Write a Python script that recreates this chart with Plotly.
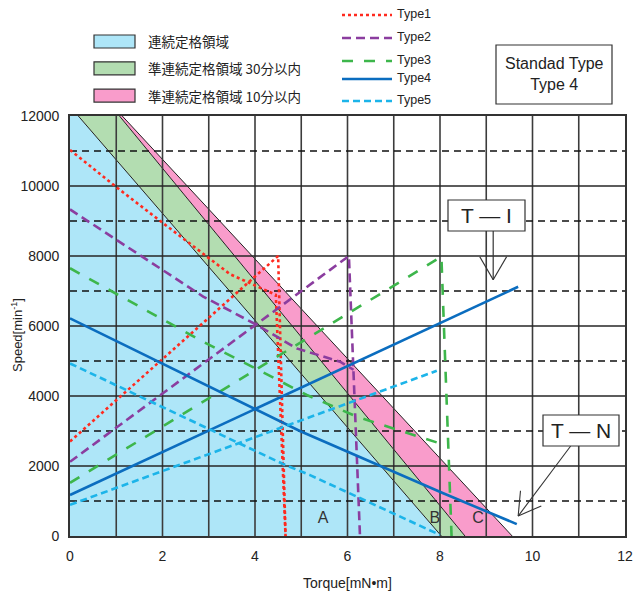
import plotly.graph_objects as go

# ---- operating regions (boundary lines run from the 12000 min^-1 edge down to 0) ----
region_speed = [12000, 0]
bound_A_torque = [0.18, 8.03]   # continuous rating limit
bound_B_torque = [1.07, 8.54]   # semi-continuous, 30 min
bound_C_torque = [1.13, 9.56]   # semi-continuous, 10 min

region_names = ["連続定格領域", "準連続定格領域 30分以内", "準連続定格領域 10分以内"]
region_colors = ["#aee6f8", "#b3ddb1", "#f99ccb"]
region_labels = ["A", "B", "C"]
region_label_torque = [5.47, 7.89, 8.82]
region_label_speed = [480, 480, 480]

# ---- motor characteristics: T-N (speed) and T-I (current) curves ----
type_names = ["Type1", "Type2", "Type3", "Type4", "Type5"]

type1_tn_t = [0, 1.04, 2.02, 2.88, 3.46, 4.45, 4.66]
type1_tn_n = [11030, 9930, 8930, 8080, 7480, 6890, 0]
type1_ti_t = [0, 4.50, 4.66]
type1_ti_n = [2700, 8000, 0]

type2_tn_t = [0, 2.88, 4.04, 4.90, 5.84, 6.13]
type2_tn_n = [9330, 6840, 6030, 5360, 4980, 4750]
type2_ti_t = [0, 6.03, 6.27]
type2_ti_n = [2120, 8000, 0]

type3_tn_t = [0, 1.62, 2.88, 3.86, 5.12, 6.20, 7.21, 8.15]
type3_tn_n = [7650, 6460, 5550, 4890, 4030, 3410, 2980, 2580]
type3_ti_t = [0, 8.03, 8.25]
type3_ti_n = [1520, 7980, 0]

type4_tn_t = [0, 3.93, 4.97, 8.07, 9.66]
type4_tn_n = [6220, 3680, 3000, 1220, 340]
type4_ti_t = [0, 9.69]
type4_ti_n = [1170, 7120]

type5_tn_t = [0, 4.65, 5.19, 8.0]
type5_tn_n = [4930, 2030, 1740, 30]
type5_ti_t = [0, 7.93]
type5_ti_n = [890, 4720]

type_colors = ["#ff2a1f", "#8b3d9f", "#3db64b", "#0b6dbf", "#1cb4e9"]
type_dashes = ["3px,3px", "9px,5px", "11px,11px", "solid", "7px,4px"]

# ---- axes ----
torque_ticks = [0, 2, 4, 6, 8, 10, 12]
speed_ticks = [0, 2000, 4000, 6000, 8000, 10000, 12000]
speed_tick_text = ["0", "2000", "4000", "6000", "8000", "10000", "12000"]
torque_grid = list(range(1, 12))
speed_grid_solid = [2000, 4000, 6000, 8000, 10000]
speed_grid_dashed = [1000, 3000, 5000, 7000, 9000, 11000]

# annotation callouts (tips sit on the ends of the Type4 curves)
ti_tip = (9.15, 7320)
tn_tip = (9.69, 570)

W, H = 633, 594
L, R, T, B = 70, 8, 116, 58
PW, PH = W - L - R, H - T - B


def px(x):
    return (x - L) / PW


def py(y):
    return (H - B - y) / PH


fig = go.Figure()

# filled regions
poly_x = [
    [0, 0] + bound_A_torque,
    bound_A_torque + bound_B_torque[::-1],
    bound_B_torque + bound_C_torque[::-1],
]
poly_y = [
    [0, 12000] + region_speed,
    region_speed + region_speed[::-1],
    region_speed + region_speed[::-1],
]
for xs, ys, c in zip(poly_x, poly_y, region_colors):
    fig.add_trace(go.Scatter(x=xs, y=ys, fill="toself", fillcolor=c, mode="none",
                             hoverinfo="skip", showlegend=False))

# boundary lines
for bt in (bound_A_torque, bound_B_torque, bound_C_torque):
    fig.add_trace(go.Scatter(x=bt, y=region_speed, mode="lines",
                             line=dict(color="#222222", width=1), showlegend=False, hoverinfo="skip"))

# grid drawn over the fills
for t in torque_grid:
    fig.add_trace(go.Scatter(x=[t, t], y=[0, 12000], mode="lines",
                             line=dict(color="#3c3c3c", width=1.6), showlegend=False, hoverinfo="skip"))
for s in speed_grid_solid:
    fig.add_trace(go.Scatter(x=[0, 12], y=[s, s], mode="lines",
                             line=dict(color="#262626", width=1.4), showlegend=False, hoverinfo="skip"))
for s in speed_grid_dashed:
    fig.add_trace(go.Scatter(x=[0, 12], y=[s, s], mode="lines",
                             line=dict(color="#111111", width=1.3, dash="7px,5px"),
                             showlegend=False, hoverinfo="skip"))

# region letters
fig.add_trace(go.Scatter(x=region_label_torque, y=region_label_speed, mode="text", text=region_labels,
                         textfont=dict(family="Liberation Sans Narrow, Liberation Sans, Arial", size=16,
                                       color="#333333"),
                         showlegend=False, hoverinfo="skip"))

# characteristic curves
curves = [
    (type1_tn_t, type1_tn_n, type1_ti_t, type1_ti_n),
    (type2_tn_t, type2_tn_n, type2_ti_t, type2_ti_n),
    (type3_tn_t, type3_tn_n, type3_ti_t, type3_ti_n),
    (type4_tn_t, type4_tn_n, type4_ti_t, type4_ti_n),
    (type5_tn_t, type5_tn_n, type5_ti_t, type5_ti_n),
]
for name, (tn_t, tn_n, ti_t, ti_n), c, d in zip(type_names, curves, type_colors, type_dashes):
    ln = dict(color=c, width=2.6, dash=d)
    fig.add_trace(go.Scatter(x=tn_t, y=tn_n, mode="lines", line=ln, name=name, showlegend=False))
    fig.add_trace(go.Scatter(x=ti_t, y=ti_n, mode="lines", line=ln, name=name, showlegend=False))

shapes = []
annotations = []

# region legend (top left)
reg_rows = [41.5, 68.3, 95.6]
for name, c, yc in zip(region_names, region_colors, reg_rows):
    shapes.append(dict(type="rect", xref="paper", yref="paper",
                       x0=px(94), x1=px(135), y0=py(yc - 6.5), y1=py(yc + 6.5),
                       fillcolor=c, line=dict(color="#333333", width=1.2)))
    annotations.append(dict(text=name, xref="paper", yref="paper", x=px(146), y=py(yc),
                            xanchor="left", yanchor="middle", showarrow=False,
                            font=dict(family="Noto Sans CJK JP", size=13.5, color="#222222")))

# line legend (top centre)
leg_rows = [15, 38, 61, 79, 101]
for name, c, d, yc in zip(type_names, type_colors, type_dashes, leg_rows):
    shapes.append(dict(type="line", xref="paper", yref="paper",
                       x0=px(342), x1=px(392), y0=py(yc), y1=py(yc),
                       line=dict(color=c, width=2.6, dash=d)))
    annotations.append(dict(text=name, xref="paper", yref="paper", x=px(395), y=py(yc - 1),
                            xanchor="left", yanchor="middle", showarrow=False,
                            font=dict(family="Liberation Sans, Arial", size=12.5, color="#222222")))

# model box (top right)
shapes.append(dict(type="rect", xref="paper", yref="paper",
                   x0=px(496), x1=px(612), y0=py(104), y1=py(45),
                   fillcolor="white", line=dict(color="#333333", width=1.2)))
annotations.append(dict(text="Standad Type<br>Type 4", xref="paper", yref="paper",
                        x=px(554), y=py(74.5), xanchor="center", yanchor="middle", showarrow=False,
                        font=dict(family="Liberation Sans, Arial", size=16, color="#222222")))

# T-I callout with open arrow
shapes.append(dict(type="line", xref="x", yref="y", x0=ti_tip[0], x1=ti_tip[0],
                   y0=ti_tip[1], y1=(H - B - 231) / PH * 12000, line=dict(color="#333333", width=1.2)))
for dx in (-0.29, 0.29):
    shapes.append(dict(type="line", xref="x", yref="y", x0=ti_tip[0], y0=ti_tip[1],
                       x1=ti_tip[0] + dx, y1=ti_tip[1] + 660, line=dict(color="#333333", width=1.2)))
shapes.append(dict(type="rect", xref="paper", yref="paper",
                   x0=px(448), x1=px(525), y0=py(231), y1=py(200),
                   fillcolor="white", line=dict(color="#333333", width=1.2)))
annotations.append(dict(text="T — I", xref="paper", yref="paper", x=px(486.5), y=py(215.5),
                        xanchor="center", yanchor="middle", showarrow=False,
                        font=dict(family="Liberation Sans, Arial", size=21, color="#222222")))

# T-N callout with open arrow
shapes.append(dict(type="line", xref="x", yref="y", x0=tn_tip[0], y0=tn_tip[1],
                   x1=(570.7 - L) / PW * 12, y1=(H - B - 446) / PH * 12000,
                   line=dict(color="#333333", width=1.1)))
shapes.append(dict(type="line", xref="x", yref="y", x0=tn_tip[0], y0=tn_tip[1],
                   x1=tn_tip[0] + 0.05, y1=tn_tip[1] + 725, line=dict(color="#333333", width=1.1)))
shapes.append(dict(type="line", xref="x", yref="y", x0=tn_tip[0], y0=tn_tip[1],
                   x1=tn_tip[0] + 0.5, y1=tn_tip[1] + 290, line=dict(color="#333333", width=1.1)))
shapes.append(dict(type="rect", xref="paper", yref="paper",
                   x0=px(543), x1=px(619), y0=py(446), y1=py(415),
                   fillcolor="white", line=dict(color="#333333", width=1.2)))
annotations.append(dict(text="T — N", xref="paper", yref="paper", x=px(581), y=py(430.5),
                        xanchor="center", yanchor="middle", showarrow=False,
                        font=dict(family="Liberation Sans, Arial", size=21, color="#222222")))

# axis titles
annotations.append(dict(text="Torque[mN•m]", xref="paper", yref="paper", x=px(347.5), y=py(583),
                        xanchor="center", yanchor="middle", showarrow=False,
                        font=dict(family="Liberation Sans Narrow, Liberation Sans, Arial", size=14,
                                  color="#222222")))
annotations.append(dict(text="Speed[min<sup>-1</sup>]", xref="paper", yref="paper", x=px(17), y=py(335),
                        xanchor="center", yanchor="middle", showarrow=False, textangle=-90,
                        font=dict(family="Liberation Sans Narrow, Liberation Sans, Arial", size=13,
                                  color="#222222")))

tick_font = dict(family="Liberation Sans Narrow, Liberation Sans, Arial", size=14, color="#222222")
fig.update_layout(
    width=W, height=H,
    margin=dict(l=L, r=R, t=T, b=B, autoexpand=False),
    paper_bgcolor="white", plot_bgcolor="white",
    shapes=shapes, annotations=annotations,
    xaxis=dict(range=[0, 12], tickvals=torque_ticks, showgrid=False, zeroline=False,
               showline=True, mirror=True, linecolor="#333333", linewidth=1.6, automargin=False,
               ticks="", tickfont=tick_font, ticklabelstandoff=6, fixedrange=True),
    yaxis=dict(range=[0, 12000], tickvals=speed_ticks, ticktext=speed_tick_text,
               showgrid=False, zeroline=False, automargin=False,
               showline=True, mirror=True, linecolor="#333333", linewidth=1.6,
               ticks="", tickfont=tick_font, ticklabelstandoff=6, fixedrange=True),
    showlegend=False,
)

fig.write_html("out.html")
